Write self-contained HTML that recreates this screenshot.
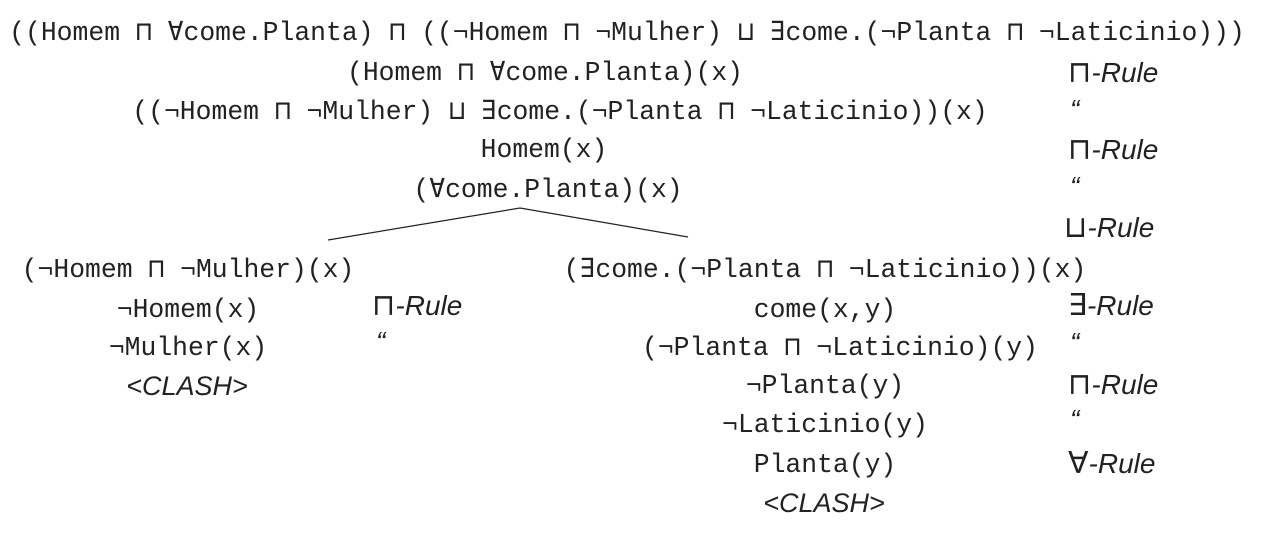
<!DOCTYPE html>
<html><head><meta charset="utf-8"><style>
body{margin:0;width:1276px;height:533px;background:#fff;position:relative;overflow:hidden;color:#222}
.m{position:absolute;font-family:"Liberation Mono","DejaVu Sans Mono",monospace;font-size:26.4px;line-height:40px;white-space:pre;transform:translateX(-50%)}
.r{position:absolute;font-family:"Liberation Sans","DejaVu Sans",sans-serif;font-size:28px;line-height:40px;white-space:pre;font-style:italic}
.r span{font-style:normal;font-family:"DejaVu Sans",sans-serif;font-size:30px}
.c{position:absolute;font-family:"Liberation Sans",sans-serif;font-style:italic;font-size:27px;line-height:40px;transform:translateX(-50%)}
</style></head><body>
<svg width="1276" height="533" style="position:absolute;left:0;top:0"><polyline points="328,240 520,208 688,237" fill="none" stroke="#222" stroke-width="1.2"/></svg>
<div class="m" style="left:627px;top:13px">((Homem ⊓ ∀come.Planta) ⊓ ((¬Homem ⊓ ¬Mulher) ⊔ ∃come.(¬Planta ⊓ ¬Laticinio)))</div>
<div class="m" style="left:545px;top:53px">(Homem ⊓ ∀come.Planta)(x)</div>
<div class="m" style="left:560px;top:92px">((¬Homem ⊓ ¬Mulher) ⊔ ∃come.(¬Planta ⊓ ¬Laticinio))(x)</div>
<div class="m" style="left:544px;top:130px">Homem(x)</div>
<div class="m" style="left:548px;top:170px">(∀come.Planta)(x)</div>
<div class="m" style="left:188px;top:250px">(¬Homem ⊓ ¬Mulher)(x)</div>
<div class="m" style="left:188px;top:290px">¬Homem(x)</div>
<div class="m" style="left:188px;top:328px">¬Mulher(x)</div>
<div class="c" style="left:187px;top:366px">&lt;CLASH&gt;</div>
<div class="m" style="left:825px;top:250px">(∃come.(¬Planta ⊓ ¬Laticinio))(x)</div>
<div class="m" style="left:825px;top:290px">come(x,y)</div>
<div class="m" style="left:840px;top:328px">(¬Planta ⊓ ¬Laticinio)(y)</div>
<div class="m" style="left:825px;top:366px">¬Planta(y)</div>
<div class="m" style="left:825px;top:405px">¬Laticinio(y)</div>
<div class="m" style="left:825px;top:445px">Planta(y)</div>
<div class="c" style="left:824px;top:483px">&lt;CLASH&gt;</div>
<div class="r" style="left:372px;top:286px"><span>⊓</span>-Rule</div>
<div class="r" style="left:376px;top:322px">“</div>
<div class="r" style="left:1068px;top:53px"><span>⊓</span>-Rule</div>
<div class="r" style="left:1070px;top:90px">“</div>
<div class="r" style="left:1068px;top:130px"><span>⊓</span>-Rule</div>
<div class="r" style="left:1070px;top:167px">“</div>
<div class="r" style="left:1064px;top:208px"><span>⊔</span>-Rule</div>
<div class="r" style="left:1068px;top:286px"><span>∃</span>-Rule</div>
<div class="r" style="left:1070px;top:323px">“</div>
<div class="r" style="left:1068px;top:365px"><span>⊓</span>-Rule</div>
<div class="r" style="left:1070px;top:400px">“</div>
<div class="r" style="left:1068px;top:444px"><span>∀</span>-Rule</div>
</body></html>
